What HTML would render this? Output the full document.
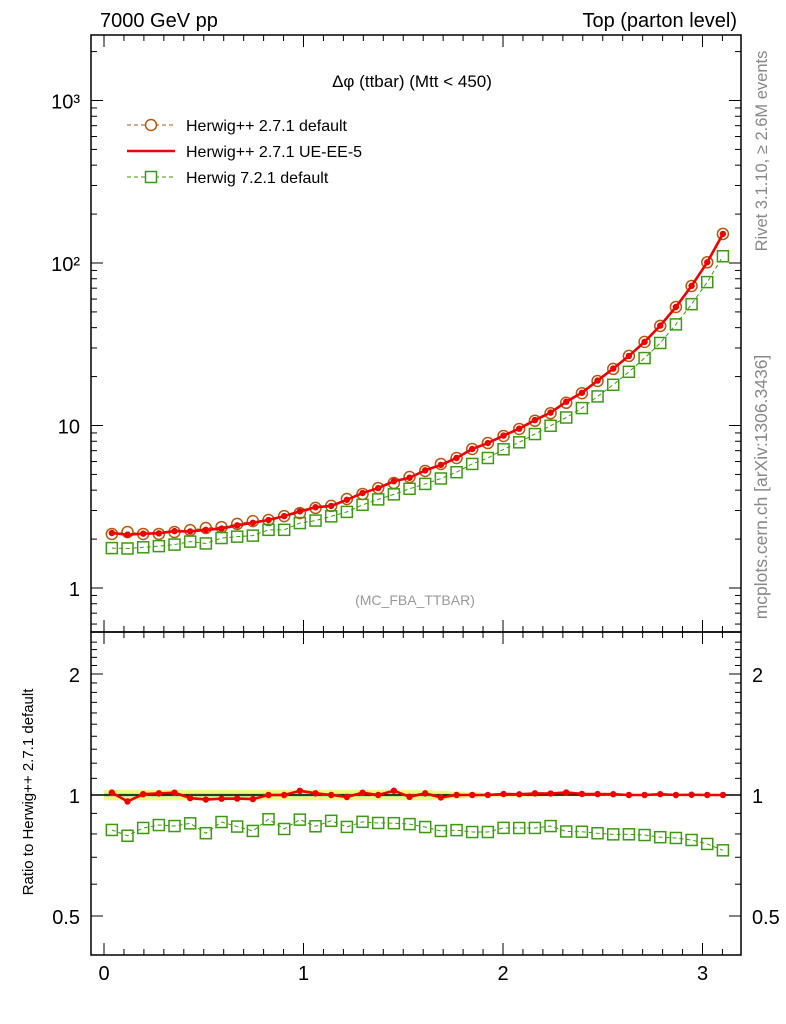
<!DOCTYPE html>
<html><head><meta charset="utf-8"><style>
body{margin:0;background:#fff;}
svg{display:block;font-family:"Liberation Sans",sans-serif;}
</style></head><body>
<svg id="c" width="786" height="1024"></svg>
<script>
const defVals=[2.15,2.21,2.15,2.15,2.21,2.27,2.34,2.37,2.48,2.58,2.62,2.77,2.89,3.11,3.20,3.53,3.79,4.12,4.43,4.82,5.25,5.80,6.31,7.17,7.80,8.62,9.52,10.7,11.9,13.8,15.8,18.8,22.3,26.8,32.7,41.0,53.6,72.2,101,151];
const ueVals=[2.18,2.13,2.16,2.17,2.24,2.23,2.28,2.32,2.43,2.52,2.62,2.77,2.96,3.14,3.20,3.49,3.84,4.12,4.54,4.77,5.30,5.72,6.31,7.17,7.80,8.67,9.56,10.8,12.0,14.0,15.9,18.9,22.4,26.8,32.7,41.2,53.6,72.3,101,151];
const h7Vals=[1.76,1.75,1.78,1.81,1.85,1.93,1.88,2.03,2.07,2.10,2.28,2.28,2.51,2.60,2.76,2.94,3.25,3.51,3.77,4.08,4.37,4.72,5.16,5.80,6.31,7.14,7.88,8.86,9.96,11.2,12.8,15.1,17.8,21.4,26.0,32.2,41.9,55.8,76.3,110];
const relErr=[0.03,0.03,0.03,0.03,0.03,0.03,0.03,0.03,0.03,0.03,0.03,0.03,0.03,0.03,0.03,0.03,0.03,0.03,0.03,0.03,0.03,0.025,0.02,0.015,0.012,0.01,0.01,0.01,0.008,0.008,0.008,0.006,0.006,0.005,0.005,0.005,0.004,0.004,0.004,0.004];
const xTicks=[0,1,2,3];
const mainTicks=[1,10,100,1000];
const mainTickLabels=["1","10","10²","10³"];
const ratioTicks=[0.5,1,2];
const ratioTickLabels=["0.5","1","2"];
const N=defVals.length, W=Math.PI/N;
const NS="http://www.w3.org/2000/svg", svg=document.getElementById('c');
const L=91,R=741,T=35,MB=632,RB=955;
const X=v=>104+199.5*v;
const Ym=v=>588-162.5*Math.log10(v);
const Yr=v=>795-402*Math.log10(v);
function el(t,a,p){const e=document.createElementNS(NS,t);for(const k in a)e.setAttribute(k,a[k]);(p||svg).appendChild(e);return e;}
function txt(s,a){const e=el('text',a);e.textContent=s;return e;}
const f1=el('rect',{x:L,y:T,width:R-L,height:MB-T,fill:'none',stroke:'#000','stroke-width':1.5});


const f2=el('rect',{x:L,y:MB,width:R-L,height:RB-MB,fill:'none',stroke:'#000','stroke-width':1.5});


for(let t=0;t<=3.2;t+=0.1){const v=Math.round(t*10)/10;const x=X(v);if(x>R)break;const major=Math.abs(v-Math.round(v))<1e-6;const len=major?12:6;
 for(const yb of [MB,RB]){el('line',{x1:x,x2:x,y1:yb,y2:yb-len,stroke:'#000'});}
 for(const yt of [T,MB]){el('line',{x1:x,x2:x,y1:yt,y2:yt+len,stroke:'#000'});}}
xTicks.forEach(v=>{const e=txt(String(v),{x:X(v),y:980,'font-size':20,'text-anchor':'middle'});
 
 });
for(let d=-1;d<=3;d++)for(let m=1;m<10;m++){const v=m*Math.pow(10,d);const y=Ym(v);if(y<T||y>MB)continue;const len=m==1?12:6;
 el('line',{x1:L,x2:L+len,y1:y,y2:y,stroke:'#000'});el('line',{x1:R,x2:R-len,y1:y,y2:y,stroke:'#000'});}
mainTicks.forEach((v,i)=>{const e=txt(mainTickLabels[i],{x:80,y:Ym(v)+8,'font-size':20,'text-anchor':'end'});
 
 });
for(let v=0.4;v<=2.5;v+=0.1){const vv=Math.round(v*10)/10;const y=Yr(vv);if(y<MB||y>RB)continue;const len=(vv==0.5||vv==1||vv==2)?12:6;
 el('line',{x1:L,x2:L+len,y1:y,y2:y,stroke:'#000'});el('line',{x1:R,x2:R-len,y1:y,y2:y,stroke:'#000'});}
ratioTicks.forEach((v,i)=>{for(const [x,an] of [[80,'end'],[752,'start']]){const e=txt(ratioTickLabels[i],{x:x,y:Yr(v)+8,'font-size':20,'text-anchor':an});
 
 }});
for(let i=0;i<N;i++){const x0=X(i*W),x1=X((i+1)*W);
 el('rect',{x:x0,y:Yr(1+relErr[i]),width:x1-x0+0.5,height:Yr(1-relErr[i])-Yr(1+relErr[i]),fill:'#f0f880'});
 el('rect',{x:x0,y:Yr(1+relErr[i]*0.4),width:x1-x0+0.5,height:Yr(1-relErr[i]*0.4)-Yr(1+relErr[i]*0.4),fill:'#b8f090'});}
el('line',{x1:L,x2:R,y1:Yr(1),y2:Yr(1),stroke:'#000','stroke-width':1.5});
const cx=i=>X((i+0.5)*W);
function series(vals,Y,color,dash,w,marker,name){
 const p=el('polyline',{points:vals.map((v,i)=>cx(i)+','+Y(v)).join(' '),fill:'none',stroke:color,'stroke-width':w,'stroke-dasharray':dash||''});
 
 
 vals.forEach((v,i)=>{let m;const x=cx(i),y=Y(v);
  if(marker=='circle')m=el('circle',{cx:x,cy:y,r:5.5,fill:'none',stroke:color,'stroke-width':1.5});
  else if(marker=='square')m=el('rect',{x:x-5.5,y:y-5.5,width:11,height:11,fill:'none',stroke:color,'stroke-width':1.5});
  else m=el('circle',{cx:x,cy:y,r:3.2,fill:color});
  
  });}
series(defVals,Ym,'#b05a10','4,3',1,'circle','herwigpp-default');
series(h7Vals,Ym,'#3c9a10','4,3',1,'square','herwig7-default');
series(ueVals,Ym,'#f00000','',2.6,'dot','herwigpp-ue-ee-5');
series(h7Vals.map((v,i)=>v/defVals[i]),Yr,'#3c9a10','4,3',1,'square','ratio-herwig7');
series(ueVals.map((v,i)=>v/defVals[i]),Yr,'#f00000','',2.6,'dot','ratio-ue-ee-5');
function T2(s,a,n){const e=txt(s,a);return e;}
T2('7000 GeV pp',{x:100,y:27,'font-size':20},'energy-label');
T2('Top (parton level)',{x:737,y:27,'font-size':20,'text-anchor':'end'},'process-label');
T2('Δφ (ttbar) (Mtt < 450)',{x:412,y:87,'font-size':17,'text-anchor':'middle'},'plot-title');
T2('(MC_FBA_TTBAR)',{x:415,y:605,'font-size':14,'text-anchor':'middle',fill:'#999'},'analysis-label');
T2('Rivet 3.1.10, ≥ 2.6M events',{x:0,y:0,'font-size':16.5,fill:'#888','text-anchor':'middle',transform:'translate(767,151) rotate(-90)'},'rivet-label');
T2('mcplots.cern.ch [arXiv:1306.3436]',{x:0,y:0,'font-size':17.5,fill:'#888','text-anchor':'middle',transform:'translate(767,487) rotate(-90)'},'mcplots-label');
T2('Ratio to Herwig++ 2.7.1 default',{x:0,y:0,'font-size':15,'text-anchor':'middle',transform:'translate(33,792) rotate(-90)'},'y-axis-title');
const leg=[['Herwig++ 2.7.1 default','#b05a10','4,3','circle',125],['Herwig++ 2.7.1 UE-EE-5','#f00000','','line',151],['Herwig 7.2.1 default','#3c9a10','4,3','square',177]];
leg.forEach(([s,c,d,m,y])=>{el('line',{x1:127,x2:175,y1:y,y2:y,stroke:c,'stroke-width':m=='line'?2.4:1,'stroke-dasharray':d});
 if(m=='circle')el('circle',{cx:151,cy:y,r:5.5,fill:'#fff',stroke:c,'stroke-width':1.5});
 if(m=='square')el('rect',{x:145.5,y:y-5.5,width:11,height:11,fill:'#fff',stroke:c,'stroke-width':1.5});
 T2(s,{x:186,y:y+6,'font-size':16},'legend-entry');});
</script>
</body></html>
